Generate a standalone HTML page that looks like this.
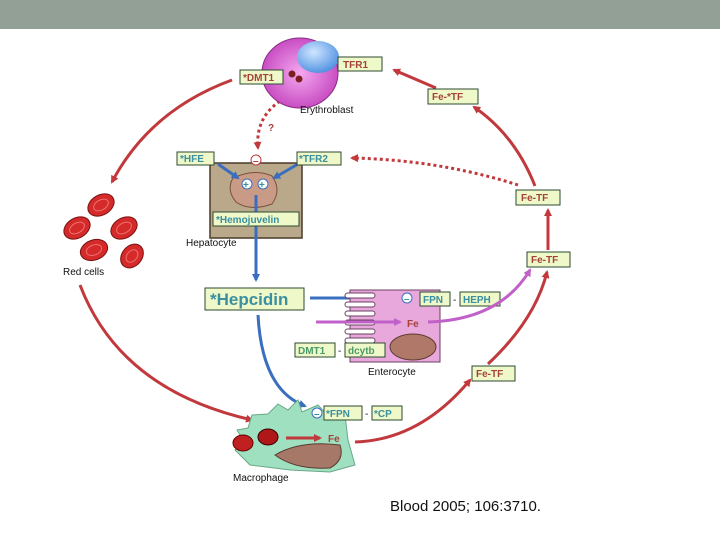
<!DOCTYPE html>
<html><head><meta charset="utf-8"><style>
body{margin:0;width:720px;height:540px;overflow:hidden;background:#fff}
svg{display:block}
text{font-family:"Liberation Sans",sans-serif;font-weight:bold}
.l{font-weight:normal;fill:#111;font-size:10px}
.b{fill:#eef8c8;stroke:#2d4a32;stroke-width:1}
.r{fill:#a4423a;font-size:10px}
.t{fill:#3a8fa0;font-size:10px}
</style></head><body>
<svg width="720" height="540" viewBox="0 0 720 540">
<defs>
<marker id="ar" markerWidth="8" markerHeight="8" refX="6" refY="4" orient="auto" markerUnits="userSpaceOnUse"><path d="M0,0 L8,4 L0,8 z" fill="#c1393c"/></marker>
<marker id="ab" markerWidth="8" markerHeight="8" refX="6" refY="4" orient="auto" markerUnits="userSpaceOnUse"><path d="M0,0 L8,4 L0,8 z" fill="#3a6fc0"/></marker>
<marker id="ap" markerWidth="8" markerHeight="8" refX="6" refY="4" orient="auto" markerUnits="userSpaceOnUse"><path d="M0,0 L8,4 L0,8 z" fill="#c060c8"/></marker>
<radialGradient id="pk" cx="0.5" cy="0.5" r="0.6"><stop offset="0" stop-color="#f4a8f0"/><stop offset="1" stop-color="#c03cba"/></radialGradient>
<radialGradient id="bl" cx="0.4" cy="0.35" r="0.7"><stop offset="0" stop-color="#cfe6ff"/><stop offset="1" stop-color="#4c8ee0"/></radialGradient>
</defs>
<rect x="0" y="0" width="720" height="29" fill="#93a096"/>

<g stroke="#c1393c" stroke-width="3" fill="none" marker-end="url(#ar)">
<path d="M232,80 Q150,110 112,182"/>
<path d="M80,285 Q120,390 252,420"/>
<path d="M355,442 Q420,440 470,380"/>
<path d="M488,364 Q535,320 547,272"/>
<path d="M548,250 L548,210"/>
<path d="M535,186 Q515,135 474,107"/>
<path d="M436,88 L394,70"/>
</g>
<g stroke="#c1393c" stroke-width="3" fill="none" stroke-dasharray="3,3">
<path d="M518,185 Q440,160 352,158" marker-end="url(#ar)"/>
<path d="M285,98 Q255,115 258,148" marker-end="url(#ar)"/>
</g>
<text x="268" y="131" class="r">?</text>

<ellipse cx="300" cy="73" rx="38" ry="35" fill="url(#pk)" stroke="#8a2c86"/>
<ellipse cx="318" cy="57" rx="21" ry="16" fill="url(#bl)"/>
<circle cx="292" cy="74" r="3.5" fill="#7a2020"/><circle cx="299" cy="79" r="3.5" fill="#7a2020"/>
<rect x="338" y="57" width="44" height="14" class="b"/><text x="343" y="68" class="r">TFR1</text>
<rect x="240" y="70" width="43" height="14" class="b"/><text x="243" y="81" class="r">*DMT1</text>
<text x="300" y="113" class="l">Erythroblast</text>
<rect x="428" y="89" width="50" height="15" class="b"/><text x="432" y="100" class="r">Fe-*TF</text>
<rect x="516" y="190" width="44" height="15" class="b"/><text x="521" y="201" class="r">Fe-TF</text>
<rect x="527" y="252" width="43" height="15" class="b"/><text x="531" y="263" class="r">Fe-TF</text>
<rect x="472" y="366" width="43" height="15" class="b"/><text x="476" y="377" class="r">Fe-TF</text>

<rect x="210" y="163" width="92" height="75" fill="#b9a88a" stroke="#4a3a28" stroke-width="1.5"/>
<path d="M233,178 Q255,168 272,176 Q282,190 272,204 Q250,212 236,202 Q226,190 233,178z" fill="#c99a85" stroke="#7a5040"/>
<g stroke="#3a6fc0" stroke-width="3" fill="none" marker-end="url(#ab)">
<path d="M218,164 L238,178"/><path d="M298,164 L274,178"/>
</g>
<circle cx="247" cy="184" r="5" fill="#fff" stroke="#3a6fc0"/><text x="243" y="188" class="t">+</text>
<circle cx="263" cy="184" r="5" fill="#fff" stroke="#3a6fc0"/><text x="259" y="188" class="t">+</text>
<circle cx="256" cy="160" r="5" fill="#fff" stroke="#c1393c"/><text x="253" y="164" class="r">–</text>
<rect x="177" y="152" width="37" height="13" class="b"/><text x="180" y="162" class="t">*HFE</text>
<rect x="297" y="152" width="44" height="13" class="b"/><text x="299" y="162" class="t">*TFR2</text>
<g stroke="#3a6fc0" stroke-width="3" fill="none" marker-end="url(#ab)">
<path d="M256,195 L256,280"/>
<path d="M310,298 L398,298"/>
<path d="M258,315 Q262,390 305,406"/>
</g>
<rect x="213" y="212" width="86" height="14" class="b"/><text x="216" y="223" class="t">*Hemojuvelin</text>
<text x="186" y="246" class="l">Hepatocyte</text>

<rect x="205" y="288" width="99" height="22" class="b"/><text x="210" y="305" class="t" style="font-size:17px">*Hepcidin</text>

<rect x="350" y="290" width="90" height="72" fill="#e8a8dc" stroke="#6a4060"/>
<g fill="#fff" stroke="#6a4060"><rect x="345" y="293" width="30" height="5" rx="2.5"/><rect x="345" y="302" width="30" height="5" rx="2.5"/><rect x="345" y="311" width="30" height="5" rx="2.5"/><rect x="345" y="320" width="30" height="5" rx="2.5"/><rect x="345" y="329" width="30" height="5" rx="2.5"/><rect x="345" y="338" width="30" height="5" rx="2.5"/></g>
<ellipse cx="413" cy="347" rx="23" ry="13" fill="#b07868" stroke="#5a3a30"/>
<circle cx="407" cy="298" r="5" fill="#fff" stroke="#3a6fc0"/><text x="404" y="302" class="t">–</text>
<rect x="420" y="292" width="30" height="14" class="b"/><text x="423" y="303" class="t">FPN</text>
<text x="453" y="303" class="l">-</text>
<rect x="460" y="292" width="40" height="14" class="b"/><text x="463" y="303" class="t">HEPH</text>
<path d="M316,322 L400,322" stroke="#c060c8" stroke-width="3" fill="none" marker-end="url(#ap)"/>
<text x="407" y="327" class="r">Fe</text>
<path d="M428,322 Q500,320 530,270" stroke="#c060c8" stroke-width="3" fill="none" marker-end="url(#ap)"/>
<rect x="295" y="343" width="40" height="14" class="b"/><text x="298" y="354" class="t" style="fill:#4a9a6a">DMT1</text>
<text x="338" y="354" class="l">-</text>
<rect x="345" y="343" width="40" height="14" class="b"/><text x="348" y="354" class="t" style="fill:#4a9a6a">dcytb</text>
<text x="368" y="375" class="l">Enterocyte</text>

<path d="M252,415 L268,414 L278,404 L288,410 L298,400 L302,412 L318,405 L330,418 L345,415 L348,440 L355,465 L330,472 L290,470 L250,465 L235,450 L244,442 L237,430 L248,428 Z" fill="#9fe0c0" stroke="#6aa888"/>
<path d="M275,455 Q300,440 340,445 Q345,460 330,468 Q295,470 275,455z" fill="#a57868" stroke="#5a3a30"/>
<ellipse cx="243" cy="443" rx="10" ry="8" fill="#c02020" stroke="#600"/>
<ellipse cx="268" cy="437" rx="10" ry="8" fill="#b01818" stroke="#300"/>
<path d="M286,438 L320,438" stroke="#c1393c" stroke-width="3" marker-end="url(#ar)"/>
<text x="328" y="442" class="r">Fe</text>
<circle cx="317" cy="413" r="5" fill="#fff" stroke="#3a6fc0"/><text x="314" y="417" class="t">–</text>
<rect x="324" y="406" width="38" height="14" class="b"/><text x="326" y="417" class="t">*FPN</text>
<text x="365" y="417" class="l">-</text>
<rect x="372" y="406" width="30" height="14" class="b"/><text x="374" y="417" class="t">*CP</text>
<text x="233" y="481" class="l">Macrophage</text>

<g fill="#d42a2a" stroke="#7a1010">
<ellipse cx="101" cy="205" rx="14" ry="10" transform="rotate(-30 101 205)"/>
<ellipse cx="77" cy="228" rx="14" ry="10" transform="rotate(-30 77 228)"/>
<ellipse cx="124" cy="228" rx="14" ry="10" transform="rotate(-30 124 228)"/>
<ellipse cx="94" cy="250" rx="14" ry="10" transform="rotate(-20 94 250)"/>
<ellipse cx="132" cy="256" rx="13" ry="10" transform="rotate(-50 132 256)"/>
</g>
<g fill="none" stroke="#f07070" stroke-width="1">
<ellipse cx="101" cy="205" rx="8" ry="5" transform="rotate(-30 101 205)"/>
<ellipse cx="77" cy="228" rx="8" ry="5" transform="rotate(-30 77 228)"/>
<ellipse cx="124" cy="228" rx="8" ry="5" transform="rotate(-30 124 228)"/>
<ellipse cx="94" cy="250" rx="8" ry="5" transform="rotate(-20 94 250)"/>
<ellipse cx="132" cy="256" rx="7" ry="5" transform="rotate(-50 132 256)"/>
</g>
<text x="63" y="275" class="l">Red cells</text>

<text x="390" y="511" style="font-weight:normal;font-size:15px;fill:#111">Blood 2005; 106:3710.</text>
</svg>
</body></html>
